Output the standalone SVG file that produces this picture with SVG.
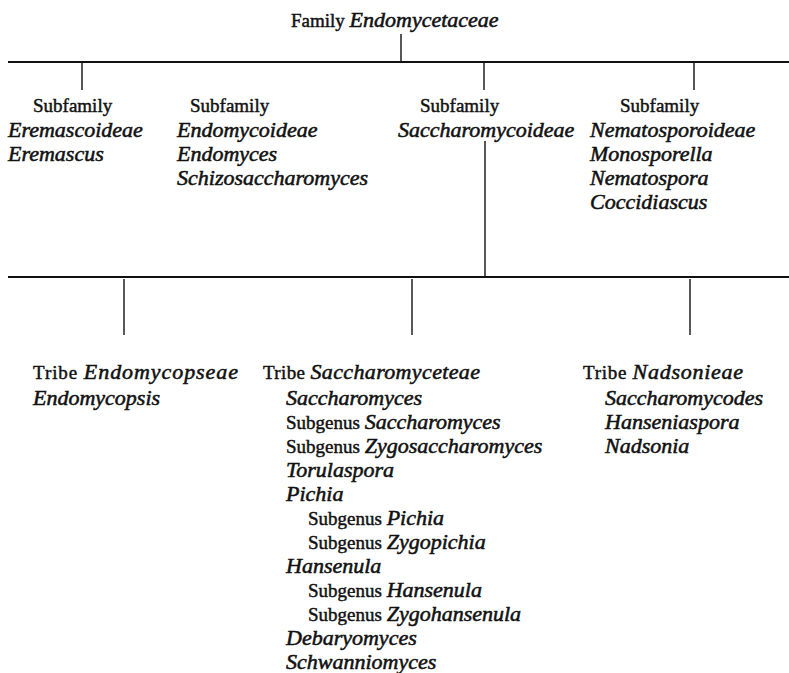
<svg xmlns="http://www.w3.org/2000/svg" width="789" height="673" viewBox="0 0 789 673">
<style>
text { font-family: "Liberation Serif", "Times New Roman", serif; font-size: 19px; fill: #111; stroke: #111; stroke-width: 0.45; }
.i { font-style: italic; font-size: 22px; stroke-width: 0.55; }
.c line { stroke: #111; stroke-width: 1.4; }
.c line.h { stroke-width: 2; }
</style>
<rect width="789" height="673" fill="#fff"/>
<g class="c" id="connectors">
  <line x1="401" y1="34" x2="401" y2="61"/>
  <line class="h" x1="8" y1="62" x2="789" y2="62"/>
  <line x1="82" y1="63" x2="82" y2="90"/>
  <line x1="484" y1="63" x2="484" y2="90"/>
  <line x1="694" y1="63" x2="694" y2="90"/>
  <line x1="485" y1="141" x2="485" y2="276"/>
  <line class="h" x1="8" y1="277" x2="789" y2="277"/>
  <line x1="124" y1="279" x2="124" y2="335"/>
  <line x1="412" y1="279" x2="412" y2="335"/>
  <line x1="690" y1="279" x2="690" y2="335"/>
</g>
<g id="family">
  <text x="291" y="27">Family <tspan class="i">Endomycetaceae</tspan></text>
</g>
<g id="eremascoideae">
  <text x="33" y="112">Subfamily</text>
  <text class="i" x="8" y="137">Eremascoideae</text>
  <text class="i" x="8" y="161">Eremascus</text>
</g>
<g id="endomycoideae">
  <text x="190" y="112">Subfamily</text>
  <text class="i" x="177" y="137">Endomycoideae</text>
  <text class="i" x="177" y="161">Endomyces</text>
  <text class="i" x="177" y="185">Schizosaccharomyces</text>
</g>
<g id="saccharomycoideae">
  <text x="420" y="112">Subfamily</text>
  <text class="i" x="398" y="137">Saccharomycoideae</text>
</g>
<g id="nematosporoideae">
  <text x="620" y="112">Subfamily</text>
  <text class="i" x="590" y="137">Nematosporoideae</text>
  <text class="i" x="590" y="161">Monosporella</text>
  <text class="i" x="590" y="185">Nematospora</text>
  <text class="i" x="590" y="209">Coccidiascus</text>
</g>
<g id="endomycopseae">
  <text x="33" y="379" textLength="205" lengthAdjust="spacing">Tribe <tspan class="i">Endomycopseae</tspan></text>
  <text class="i" x="33" y="405">Endomycopsis</text>
</g>
<g id="saccharomyceteae">
  <text x="263" y="379" textLength="217" lengthAdjust="spacing">Tribe <tspan class="i">Saccharomyceteae</tspan></text>
  <text class="i" x="286" y="405">Saccharomyces</text>
  <text x="286" y="429">Subgenus <tspan class="i">Saccharomyces</tspan></text>
  <text x="286" y="453">Subgenus <tspan class="i">Zygosaccharomyces</tspan></text>
  <text class="i" x="286" y="477">Torulaspora</text>
  <text class="i" x="286" y="501">Pichia</text>
  <text x="308" y="525">Subgenus <tspan class="i">Pichia</tspan></text>
  <text x="308" y="549">Subgenus <tspan class="i">Zygopichia</tspan></text>
  <text class="i" x="286" y="573">Hansenula</text>
  <text x="308" y="597">Subgenus <tspan class="i">Hansenula</tspan></text>
  <text x="308" y="621">Subgenus <tspan class="i">Zygohansenula</tspan></text>
  <text class="i" x="286" y="645">Debaryomyces</text>
  <text class="i" x="286" y="669">Schwanniomyces</text>
</g>
<g id="nadsonieae">
  <text x="583" y="379" textLength="160" lengthAdjust="spacing">Tribe <tspan class="i">Nadsonieae</tspan></text>
  <text class="i" x="605" y="405">Saccharomycodes</text>
  <text class="i" x="605" y="429">Hanseniaspora</text>
  <text class="i" x="605" y="453">Nadsonia</text>
</g>
</svg>
